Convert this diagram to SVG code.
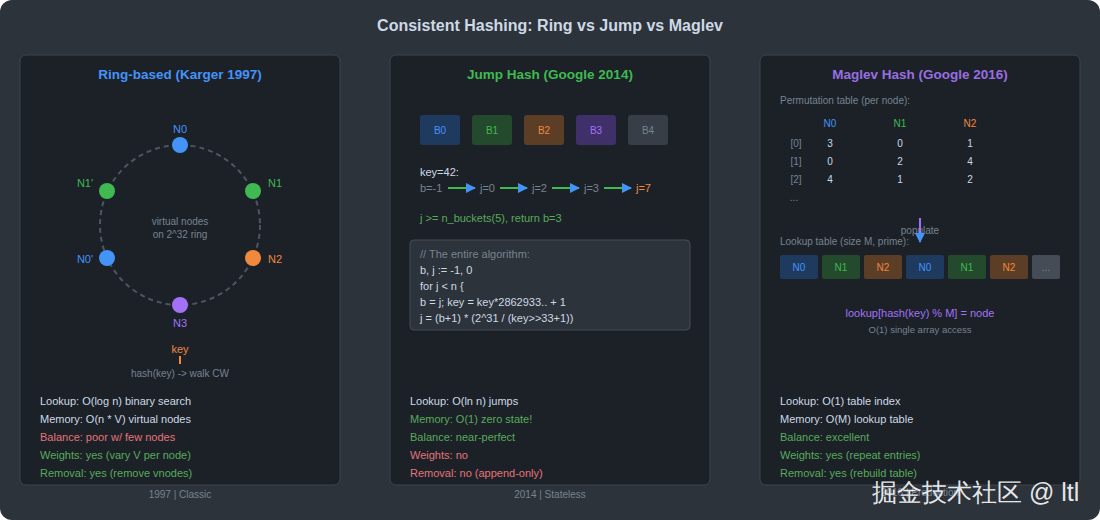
<svg xmlns="http://www.w3.org/2000/svg" width="1100" height="520" viewBox="0 0 1100 520">
<defs>
<marker id="ah" viewBox="0 0 10 10" refX="9" refY="5" markerWidth="5" markerHeight="5" orient="auto" markerUnits="strokeWidth"><path d="M0,0 L10,5 L0,10 z" fill="#4493f8"/></marker>
<style>
text{font-family:"Liberation Sans",Arial,sans-serif}
.title{font-size:16px;font-weight:bold;fill:#cdd9e5;text-anchor:middle}
.ptitle{font-size:13.5px;font-weight:bold;text-anchor:middle}
.panel{fill:#1c2128;stroke:#3d444d;stroke-width:1}
.foot{font-size:10px;fill:#768390;text-anchor:middle}
.st{font-size:11px}
.w{fill:#cdd9e5}.g{fill:#57ab5a}.r{fill:#e5737a}.gr{fill:#768390}
.blue{fill:#4493f8}.green{fill:#3fb950}.orange{fill:#f0883e}.purple{fill:#a371f7}
.lbl{font-size:11px;text-anchor:middle}
.sm{font-size:10px}
.code{font-size:11px}
.mid{text-anchor:middle}
.cell{font-size:10px;text-anchor:middle}
</style>
</defs>
<rect x="0" y="0" width="1100" height="520" rx="12" fill="#2d333b"/>
<text class="title" x="550" y="31">Consistent Hashing: Ring vs Jump vs Maglev</text>

<g id="panel-ring">
<rect class="panel" x="20" y="55" width="320" height="430" rx="6"/>
<text class="ptitle" x="180" y="79" fill="#4493f8">Ring-based (Karger 1997)</text>
<circle cx="180" cy="225" r="80" fill="none" stroke="#4d5560" stroke-width="2" stroke-dasharray="5 4"/>
<text class="sm gr mid" x="180" y="225">virtual nodes</text>
<text class="sm gr mid" x="180" y="238">on 2^32 ring</text>
<g id="n0"><circle cx="180" cy="145" r="8" fill="#4493f8"/><text class="lbl blue" x="180" y="133">N0</text></g>
<g id="n1"><circle cx="253" cy="191" r="8" fill="#3fb950"/><text class="lbl green" x="275" y="187">N1</text></g>
<g id="n2"><circle cx="253" cy="258" r="8" fill="#f0883e"/><text class="lbl orange" x="275" y="263">N2</text></g>
<g id="n3"><circle cx="180" cy="305" r="8" fill="#a371f7"/><text class="lbl purple" x="180" y="327">N3</text></g>
<g id="n0v"><circle cx="107" cy="258" r="8" fill="#4493f8"/><text class="lbl blue" x="85" y="263">N0'</text></g>
<g id="n1v"><circle cx="107" cy="191" r="8" fill="#3fb950"/><text class="lbl green" x="85" y="187">N1'</text></g>
<text class="lbl orange" x="180" y="353">key</text>
<line x1="180" y1="356" x2="180" y2="364" stroke="#f0883e" stroke-width="2"/>
<text class="sm gr mid" x="180" y="377">hash(key) -&gt; walk CW</text>
<text class="st w" x="40" y="405">Lookup: O(log n) binary search</text>
<text class="st w" x="40" y="423">Memory: O(n * V) virtual nodes</text>
<text class="st r" x="40" y="441">Balance: poor w/ few nodes</text>
<text class="st g" x="40" y="459">Weights: yes (vary V per node)</text>
<text class="st g" x="40" y="477">Removal: yes (remove vnodes)</text>
<text class="foot" x="180" y="498">1997 | Classic</text>
</g>

<g id="panel-jump">
<rect class="panel" x="390" y="55" width="320" height="430" rx="6"/>
<text class="ptitle" x="550" y="79" fill="#3fb950">Jump Hash (Google 2014)</text>
<g id="b0"><rect x="420" y="115" width="40" height="30" rx="3" fill="#1f3a5f"/><text class="cell blue" x="440" y="134" font-size="11">B0</text></g>
<g id="b1"><rect x="472" y="115" width="40" height="30" rx="3" fill="#234a2d"/><text class="cell green" x="492" y="134" font-size="11">B1</text></g>
<g id="b2"><rect x="524" y="115" width="40" height="30" rx="3" fill="#5c3d26"/><text class="cell orange" x="544" y="134" font-size="11">B2</text></g>
<g id="b3"><rect x="576" y="115" width="40" height="30" rx="3" fill="#40306a"/><text class="cell purple" x="596" y="134" font-size="11">B3</text></g>
<g id="b4"><rect x="628" y="115" width="40" height="30" rx="3" fill="#373e47"/><text class="cell gr" x="648" y="134" font-size="11">B4</text></g>
<text class="st w" x="420" y="176">key=42:</text>
<text class="st gr" x="420" y="192">b=-1</text>
<text class="st gr" x="480" y="192">j=0</text>
<text class="st gr" x="532" y="192">j=2</text>
<text class="st gr" x="584" y="192">j=3</text>
<text class="st orange" x="636" y="192">j=7</text>
<text class="st g" x="420" y="222">j &gt;= n_buckets(5), return b=3</text>
<rect x="410" y="240" width="280" height="90" rx="4" fill="#2d333b" stroke="#444c56"/>
<text class="code gr" x="420" y="258">// The entire algorithm:</text>
<text class="code w" x="420" y="274">b, j := -1, 0</text>
<text class="code w" x="420" y="290">for j &lt; n {</text>
<text class="code w" x="420" y="306">b = j; key = key*2862933.. + 1</text>
<text class="code w" x="420" y="322">j = (b+1) * (2^31 / (key&gt;&gt;33+1))</text>
<text class="st w" x="410" y="405">Lookup: O(ln n) jumps</text>
<text class="st g" x="410" y="423">Memory: O(1) zero state!</text>
<text class="st g" x="410" y="441">Balance: near-perfect</text>
<text class="st r" x="410" y="459">Weights: no</text>
<text class="st r" x="410" y="477">Removal: no (append-only)</text>
<text class="foot" x="550" y="498">2014 | Stateless</text>
</g>

<g id="panel-maglev">
<rect class="panel" x="760" y="55" width="320" height="430" rx="6"/>
<text class="ptitle" x="920" y="79" fill="#986ee2">Maglev Hash (Google 2016)</text>
<text class="sm gr" x="780" y="104">Permutation table (per node):</text>
<text class="cell blue" x="830" y="127">N0</text>
<text class="cell green" x="900" y="127">N1</text>
<text class="cell orange" x="970" y="127">N2</text>
<text class="cell gr" x="796" y="147">[0]</text>
<text class="cell gr" x="796" y="165">[1]</text>
<text class="cell gr" x="796" y="183">[2]</text>
<text class="cell gr" x="794" y="201">...</text>
<text class="cell w" x="830" y="147">3</text><text class="cell w" x="900" y="147">0</text><text class="cell w" x="970" y="147">1</text>
<text class="cell w" x="830" y="165">0</text><text class="cell w" x="900" y="165">2</text><text class="cell w" x="970" y="165">4</text>
<text class="cell w" x="830" y="183">4</text><text class="cell w" x="900" y="183">1</text><text class="cell w" x="970" y="183">2</text>
<text class="cell gr" x="920" y="234" font-size="9">populate</text>
<text class="sm gr" x="780" y="245">Lookup table (size M, prime):</text>
<g id="l0"><rect x="780" y="255" width="38" height="24" rx="2" fill="#1f3a5f"/><text class="cell blue" x="799" y="271">N0</text></g>
<g id="l1"><rect x="822" y="255" width="38" height="24" rx="2" fill="#234a2d"/><text class="cell green" x="841" y="271">N1</text></g>
<g id="l2"><rect x="864" y="255" width="38" height="24" rx="2" fill="#5c3d26"/><text class="cell orange" x="883" y="271">N2</text></g>
<g id="l3"><rect x="906" y="255" width="38" height="24" rx="2" fill="#1f3a5f"/><text class="cell blue" x="925" y="271">N0</text></g>
<g id="l4"><rect x="948" y="255" width="38" height="24" rx="2" fill="#234a2d"/><text class="cell green" x="967" y="271">N1</text></g>
<g id="l5"><rect x="990" y="255" width="38" height="24" rx="2" fill="#5c3d26"/><text class="cell orange" x="1009" y="271">N2</text></g>
<g id="l6"><rect x="1032" y="255" width="28" height="24" rx="2" fill="#454c56"/><text class="cell gr" x="1046" y="271">...</text></g>
<text class="st purple mid" x="920" y="317">lookup[hash(key) % M] = node</text>
<text class="gr mid" x="920" y="333" font-size="9.5">O(1) single array access</text>
<text class="st w" x="780" y="405">Lookup: O(1) table index</text>
<text class="st w" x="780" y="423">Memory: O(M) lookup table</text>
<text class="st g" x="780" y="441">Balance: excellent</text>
<text class="st g" x="780" y="459">Weights: yes (repeat entries)</text>
<text class="st g" x="780" y="477">Removal: yes (rebuild table)</text>
<text class="foot" x="920" y="496">2016 | Production</text>
</g>

<g id="connectors" fill="none" stroke-width="2">
<line x1="448" y1="188" x2="475" y2="188" stroke="#3fb950" marker-end="url(#ah)"/>
<line x1="500" y1="188" x2="527" y2="188" stroke="#3fb950" marker-end="url(#ah)"/>
<line x1="552" y1="188" x2="579" y2="188" stroke="#3fb950" marker-end="url(#ah)"/>
<line x1="604" y1="188" x2="631" y2="188" stroke="#3fb950" marker-end="url(#ah)"/>
<line x1="920" y1="218" x2="920" y2="242" stroke="#a371f7" marker-end="url(#ah)"/>
</g>

<text x="872" y="501" font-size="25" fill="#ffffff" fill-opacity="0.9" font-family="'Noto Sans CJK SC', 'Liberation Sans', sans-serif">掘金技术社区 @ ltl</text>
</svg>
